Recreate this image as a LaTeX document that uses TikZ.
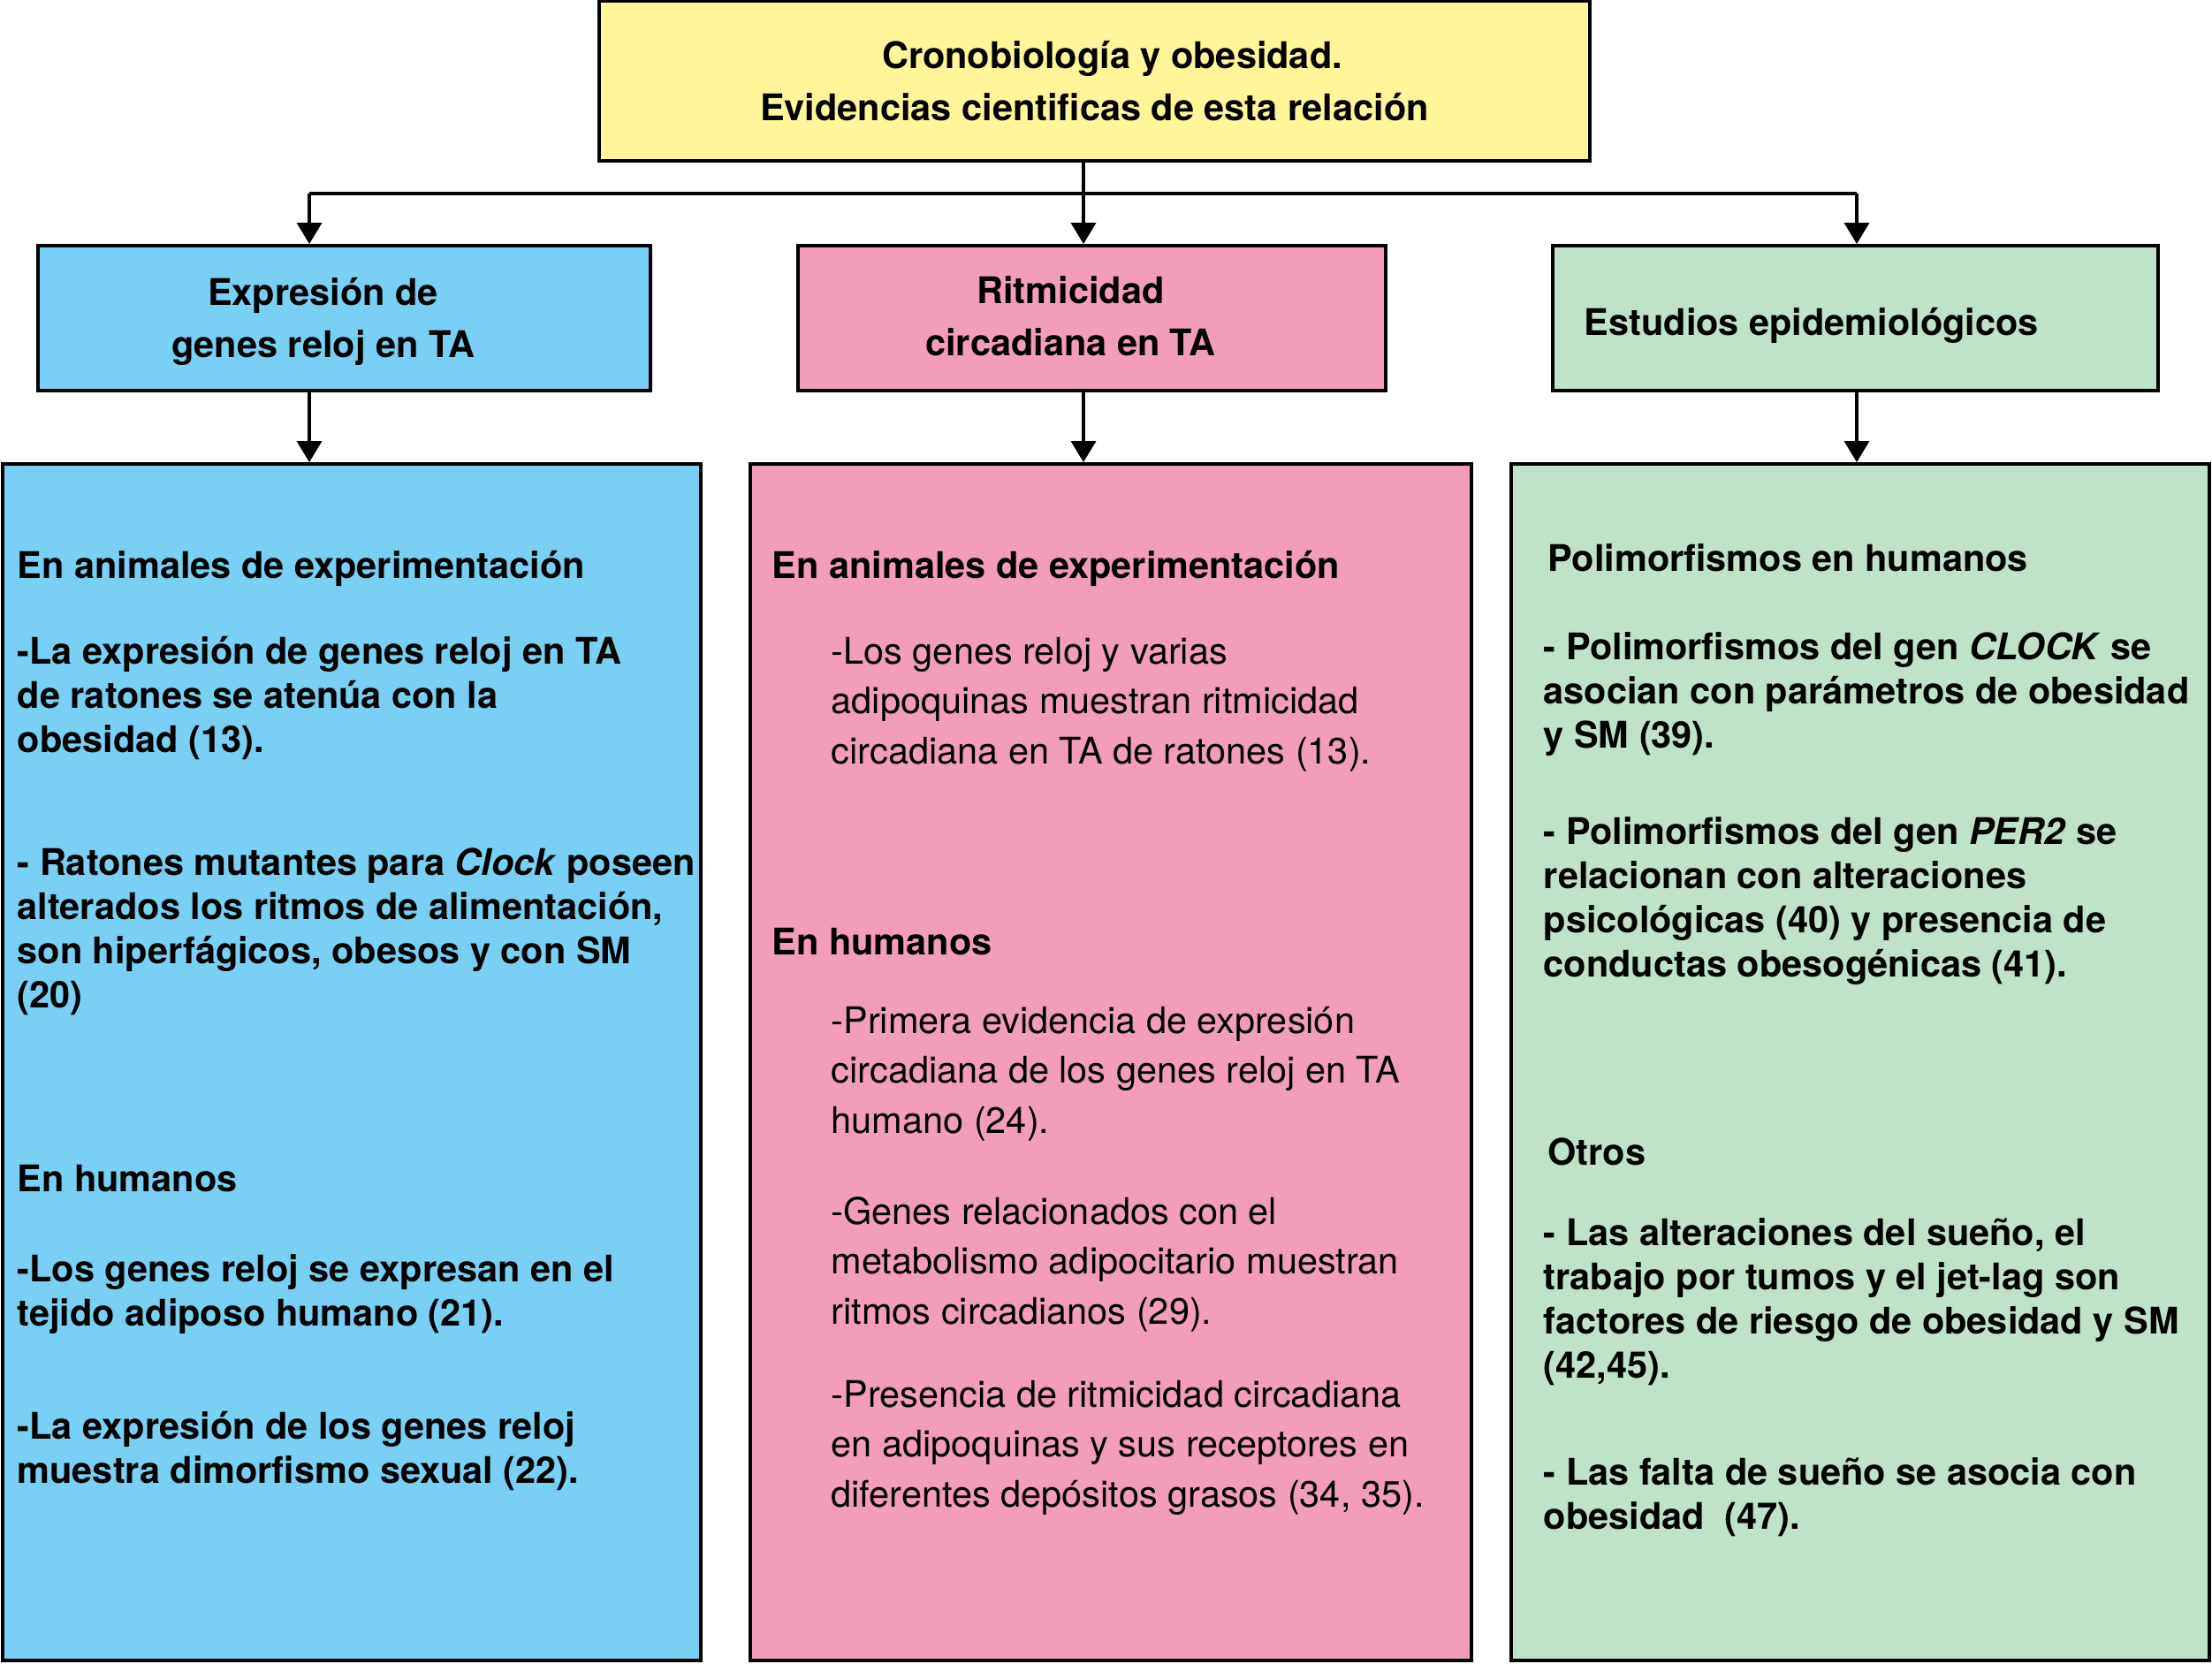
\documentclass[tikz,border=0pt]{standalone}
\usepackage{fontspec}
\setmainfont{TeX Gyre Heros}
\usetikzlibrary{arrows.meta}
\definecolor{titleyellow}{RGB}{255,246,153}
\definecolor{clockblue}{RGB}{122,207,245}
\definecolor{rhythmpink}{RGB}{243,157,187}
\definecolor{epigreen}{RGB}{192,226,200}
\begin{document}
\begin{tikzpicture}[
    box/.style={draw, line width=1.1pt, inner sep=0pt},
    link/.style={line width=1pt},
    arrow/.style={link, -{Triangle[width=0.28cm,length=0.24cm]}},
    headtext/.style={align=center, inner sep=0pt, font=\bfseries\fontsize{11.8}{16.8}\selectfont},
    boldtext/.style={anchor=north west, align=left, inner sep=0pt, font=\bfseries\fontsize{11.8}{14.2}\selectfont},
    plaintext/.style={anchor=north west, align=left, inner sep=0pt, font=\fontsize{11.8}{16.1}\selectfont}
]
    \useasboundingbox (0,0) rectangle (25.03,-18.82);

    % Title box
    \node[box, headtext, fill=titleyellow, minimum width=11.21cm, minimum height=1.81cm] (title) at (12.385,-0.915)
        {\hspace*{0.4cm}Cronobiología y obesidad.\\Evidencias cientificas de esta relación};

    % Second row
    \node[box, fill=clockblue, minimum width=6.93cm, minimum height=1.64cm] (expr) at (3.895,-3.60) {};
    \node[box, fill=rhythmpink, minimum width=6.65cm, minimum height=1.64cm] (ritmo) at (12.355,-3.60) {};
    \node[box, fill=epigreen, minimum width=6.85cm, minimum height=1.64cm] (estud) at (20.995,-3.60) {};
    \node[headtext] (exprtxt) at ([xshift=-0.24cm, yshift=-0.04cm]expr.center) {Expresión de\\genes reloj en TA};
    \node[headtext] (ritmotxt) at ([xshift=-0.24cm, yshift=0.02cm]ritmo.center) {Ritmicidad\\circadiana en TA};
    \node[headtext, anchor=west] (estudtxt) at ([xshift=0.37cm, yshift=-0.08cm]estud.west) {Estudios epidemiológicos};

    % Third row
    \node[box, fill=clockblue, minimum width=7.90cm, minimum height=13.54cm] (blueCol) at (3.98,-12.02) {};
    \node[box, fill=rhythmpink, minimum width=8.16cm, minimum height=13.54cm] (pinkCol) at (12.57,-12.02) {};
    \node[box, fill=epigreen, minimum width=7.90cm, minimum height=13.54cm] (greenCol) at (21.05,-12.02) {};

    % Connectors
    \coordinate (bl) at (3.50,-2.19);
    \coordinate (md) at (12.26,-2.19);
    \coordinate (rt) at (21.01,-2.19);
    \draw[link] (title.south -| md) -- (md);
    \draw[link] (bl) -- (rt);
    \foreach \c/\n in {bl/expr, md/ritmo, rt/estud} {
        \draw[arrow] (\c) -- (\c |- \n.north);
    }
    \foreach \c/\n/\m in {bl/expr/blueCol, md/ritmo/pinkCol, rt/estud/greenCol} {
        \draw[arrow] (\c |- \n.south) -- (\c |- \m.north);
    }

    % Blue column
    \node[boldtext] (bHead1) at (0.19,-6.19) {\strut En animales de experimentación};
    \node[boldtext] (bText1) at (0.19,-7.16) {\strut -La expresión de genes reloj en TA\\de ratones se atenúa con la\\obesidad (13).};
    \node[boldtext] (bText2) at (0.19,-9.55) {\strut - Ratones mutantes para \textit{Clock} poseen\\alterados los ritmos de alimentación,\\son hiperfágicos, obesos y con SM\\(20)};
    \node[boldtext] (bHead2) at (0.19,-13.13) {\strut En humanos};
    \node[boldtext] (bText3) at (0.19,-14.15) {\strut -Los genes reloj se expresan en el\\tejido adiposo humano (21).};
    \node[boldtext] (bText4) at (0.19,-15.93) {\strut -La expresión de los genes reloj\\muestra dimorfismo sexual (22).};

    % Pink column
    \node[boldtext] (pHead1) at (8.73,-6.19) {\strut En animales de experimentación};
    \node[plaintext] (pText1) at (9.40,-7.11) {\strut -Los genes reloj y varias\\adipoquinas muestran ritmicidad\\circadiana en TA de ratones (13).};
    \node[boldtext] (pHead2) at (8.73,-10.45) {\strut En humanos};
    \node[plaintext] (pText2) at (9.40,-11.29) {\strut -Primera evidencia de expresión\\circadiana de los genes reloj en TA\\humano (24).};
    \node[plaintext] (pText3) at (9.40,-13.45) {\strut -Genes relacionados con el\\metabolismo adipocitario muestran\\ritmos circadianos (29).};
    \node[plaintext] (pText4) at (9.40,-15.52) {\strut -Presencia de ritmicidad circadiana\\en adipoquinas y sus receptores en\\diferentes depósitos grasos (34, 35).};

    % Green column
    \node[boldtext] (gHead1) at (17.51,-6.11) {\strut Polimorfismos en humanos};
    \node[boldtext] (gText1) at (17.46,-7.11) {\strut - Polimorfismos del gen \textit{CLOCK} se\\asocian con parámetros de obesidad\\y SM (39).};
    \node[boldtext] (gText2) at (17.46,-9.20) {\strut - Polimorfismos del gen \textit{PER2} se\\relacionan con alteraciones\\psicológicas (40) y presencia de\\conductas obesogénicas (41).};
    \node[boldtext] (gHead2) at (17.51,-12.83) {\strut Otros};
    \node[boldtext] (gText3) at (17.46,-13.74) {\strut - Las alteraciones del sueño, el\\trabajo por tumos y el jet-lag son\\factores de riesgo de obesidad y SM\\(42,45).};
    \node[boldtext] (gText4) at (17.46,-16.45) {\strut - Las falta de sueño se asocia con\\obesidad~~(47).};

\end{tikzpicture}
\end{document}
